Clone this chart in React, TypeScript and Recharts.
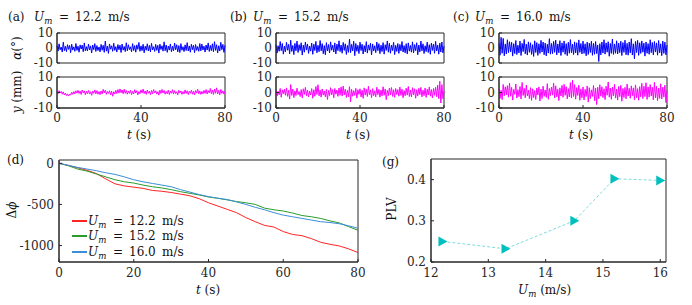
import React from "react";
import { LineChart, Line, XAxis, YAxis, ReferenceArea } from "recharts";

const FONT = "'DejaVu Serif', serif";
const INK = "#262626";

// panel (a..c) pitch angle / heave traces, one sample per 0.5 s
const alphaA = [
  1.5,-2.1,2.8,-1.2,0.6,-2.7,3.9,-1.8,1.1,-2.4, 2.2,-0.9,1.7,-3.1,2.5,-1.4,0.8,-2.2,3.0,-1.6,
  1.2,-2.8,2.1,-0.7,1.9,-2.5,3.4,-1.9,0.9,-2.0, 2.6,-1.3,1.4,-3.3,2.0,-1.1,2.9,-2.3,1.6,-1.7,
  0.7,-2.6,2.4,-1.5,1.8,-2.9,4.6,-2.1,1.3,-3.6, 2.7,-0.8,1.5,-2.2,3.2,-1.6,0.9,-2.7,2.3,-1.2,
  1.9,-3.0,2.6,-1.4,1.0,-2.4,3.5,-1.9,2.2,-1.1, 0.8,-2.5,2.9,-1.7,1.6,-2.8,2.1,-0.9,3.7,-2.2,
  1.4,-1.8,2.5,-3.2,1.2,-1.5,2.8,-2.0,1.7,-2.6, 3.1,-1.3,0.9,-2.3,2.4,-1.6,1.8,-3.4,2.6,-1.0,
  1.5,-2.1,4.1,-1.8,2.0,-2.9,1.3,-1.4,2.7,-2.5, 1.1,-1.9,3.3,-1.2,2.2,-2.6,1.6,-3.0,2.9,-1.5,
  0.9,-2.4,2.1,-1.7,3.6,-2.0,1.4,-2.8,2.5,-1.1, 1.8,-3.1,2.3,-1.6,1.0,-2.2,3.0,-1.9,2.6,-1.3,
  1.2,-2.7,2.0,-1.4,3.4,-2.3,1.7,-1.8,2.8,-2.5, 4.2,-1.6,2.2,-3.3,1.5,-2.0,3.8,-1.2,2.4,-2.9,
  1.8,
];
const heaveA = [
  0.5,-0.8,1.2,-0.3,0.7,-1.1,0.4,-1.6,-0.5,-2.0, -0.9,-2.3,-1.0,-1.7,0.2,-1.2,0.6,-0.9,1.1,-0.4,
  1.4,-0.6,0.9,-1.3,1.6,-0.2,1.0,-1.5,0.8,-0.7, 1.3,-1.0,0.5,-1.8,0.9,-0.5,1.7,-0.8,1.2,-1.1,
  0.6,-1.4,1.0,-0.9,2.0,-0.3,1.5,-1.2,0.7,-0.6, 1.1,-1.6,0.8,-2.4,0.5,-1.0,1.4,-0.7,1.9,-0.4,
  2.3,-0.2,1.6,-0.8,2.1,-0.5,1.3,-1.1,0.9,-0.6, 1.5,-1.3,0.7,-0.9,1.8,-0.4,1.2,-1.5,0.6,-0.8,
  1.7,-0.3,2.2,-0.7,1.0,-1.2,1.6,-0.5,0.8,-1.4, 1.3,-0.9,1.9,-0.2,1.1,-1.0,0.6,-1.7,1.5,-0.6,
  2.0,-0.4,1.3,-1.1,0.7,-0.8,1.6,-1.3,0.9,-0.5, 1.8,-1.0,1.2,-0.7,0.5,-1.5,1.4,-0.3,1.0,-1.2,
  0.6,-0.9,1.7,-0.6,1.1,-1.4,0.8,-0.5,1.5,-1.1, 0.9,-1.6,1.3,-0.4,2.1,-0.8,1.0,-1.2,0.7,-0.9,
  1.4,-0.6,1.9,-1.0,1.2,-0.3,2.6,-0.7,1.6,-1.3, 2.2,-0.5,3.0,-0.9,1.4,-1.5,2.0,-0.6,1.1,-1.0,
  0.8,
];
const alphaB = [
  2.1,-3.4,1.5,-2.2,4.3,-1.8,3.0,-4.1,1.2,-2.6, 3.8,-1.5,2.4,-3.9,5.2,-2.3,1.7,-4.4,3.1,-1.9,
  4.6,-3.0,2.2,-1.6,3.5,-4.7,1.9,-2.8,4.0,-1.4, 2.7,-3.6,1.3,-2.1,3.3,-4.2,2.5,-1.7,4.4,-3.2,
  1.8,-2.5,5.0,-1.9,2.9,-3.8,1.6,-4.5,3.6,-2.0, 2.3,-3.3,4.1,-1.5,1.9,-2.7,3.4,-4.0,2.6,-1.8,
  4.8,-2.4,2.0,-3.5,3.7,-1.6,2.8,-4.3,1.7,-2.9, 5.9,-3.1,2.4,-1.9,4.5,-5.1,3.0,-2.2,1.8,-3.7,
  3.9,-1.7,2.5,-4.0,1.6,-2.6,4.2,-3.4,2.1,-1.5, 3.2,-4.6,2.7,-2.0,1.5,-3.1,4.0,-1.8,2.9,-3.8,
  1.9,-2.4,3.6,-4.1,2.2,-1.6,4.7,-2.8,3.1,-3.5, 2.0,-1.7,3.8,-4.4,1.8,-2.3,3.0,-3.6,2.4,-1.9,
  4.3,-2.7,1.6,-3.2,2.9,-4.0,3.4,-2.1,1.7,-2.8, 4.1,-3.3,2.3,-1.8,3.5,-4.5,2.0,-2.6,4.6,-1.9,
  2.8,-3.7,1.5,-2.4,3.9,-3.0,2.2,-4.2,3.3,-1.6, 2.6,-3.5,4.4,-2.0,1.9,-4.1,3.2,-2.7,4.0,-3.3,
  1.2,
];
const heaveB = [
  1.2,-2.3,0.8,-1.5,2.6,-3.1,1.7,-0.9,2.1,-1.8, 3.0,-2.5,1.4,-4.2,5.1,-1.9,2.2,-3.3,1.1,-2.0,
  2.8,-1.4,0.7,-2.6,1.9,-3.5,2.4,-1.2,3.3,-2.1, 1.5,-2.9,0.9,-1.6,2.5,-3.7,1.8,-2.4,3.9,-1.3,
  5.0,-2.2,1.6,-3.0,2.3,-1.7,1.0,-2.8,2.0,-4.5, 1.3,-2.0,3.1,-1.5,1.9,-3.4,2.6,-1.1,1.6,-2.5,
  2.9,-1.8,3.6,-2.3,4.2,-1.6,2.1,-3.2,1.4,-2.7, 3.8,-6.1,2.0,-2.4,1.2,-1.9,2.7,-3.6,1.8,-1.2,
  2.4,-2.9,1.5,-3.8,3.0,-1.7,2.2,-2.6,4.0,-1.5, 1.7,-3.3,2.5,-2.0,1.1,-2.8,3.4,-1.4,2.0,-3.0,
  1.6,-2.2,3.7,-1.8,2.3,-4.6,1.4,-2.0,2.9,-1.6, 3.2,-2.5,1.8,-3.1,2.6,-1.3,1.9,-2.4,3.5,-1.9,
  2.2,-3.4,1.3,-2.1,2.8,-1.7,3.9,-2.6,1.6,-2.9, 3.1,-1.5,2.4,-3.7,1.8,-2.2,2.7,-1.4,3.3,-2.8,
  1.5,-2.0,2.9,-3.2,2.1,-1.6,3.6,-2.4,1.9,-3.5, 2.6,-1.8,3.4,-2.7,4.8,-3.9,7.2,-6.8,5.1,-4.0,
  1.0,
];
const alphaC = [
  3.2,-4.8,7.1,-3.5,6.4,-5.2,2.7,-4.0,5.5,-3.1, 4.2,-2.6,3.8,-5.4,2.9,-3.7,5.0,-4.4,1.9,-3.3,
  4.6,-5.0,3.1,-2.4,5.7,-3.9,2.6,-4.7,4.1,-2.9, 3.5,-4.3,2.2,-5.6,4.8,-3.0,3.6,-4.9,2.8,-3.6,
  5.1,-2.7,4.0,-4.5,3.3,-5.3,2.5,-3.4,6.2,-4.1, 3.0,-3.8,4.4,-2.9,5.3,-4.6,2.7,-3.2,4.9,-5.0,
  3.4,-2.8,4.7,-4.2,2.9,-5.1,3.8,-3.5,5.6,-3.1, 2.6,-4.4,4.1,-3.3,3.5,-4.8,5.4,-2.9,3.0,-4.0,
  4.6,-3.6,2.8,-5.2,3.9,-4.3,3.2,-3.0,4.5,-4.9, 3.1,-4.2,4.3,-3.7,2.0,-9.0,2.9,-4.6,4.0,-3.4,
  5.5,-4.1,3.4,-2.8,4.2,-5.5,3.0,-3.6,6.0,-4.3, 2.7,-3.5,4.8,-4.0,3.3,-3.1,4.5,-5.0,3.6,-2.9,
  5.2,-4.5,3.1,-4.8,4.0,-3.3,6.2,-4.7,2.8,-7.2, 4.4,-3.0,5.1,-4.9,3.5,-3.6,4.7,-2.8,3.2,-5.4,
  4.0,-3.5,2.9,-4.2,5.5,-3.1,3.7,-4.6,4.3,-2.7, 3.4,-4.8,5.0,-3.2,2.8,-5.1,4.6,-3.6,3.9,-4.5,
  2.0,
];
const heaveC = [
  2.5,-3.8,1.4,-4.6,5.2,-2.1,3.7,-1.5,4.4,-3.0, 6.1,-2.4,3.3,-4.9,2.0,-1.2,5.5,-3.6,1.8,-2.7,
  3.9,-4.2,6.5,-1.9,2.7,-3.4,4.8,-2.2,1.5,-4.0, 3.1,-5.1,2.4,-3.3,1.2,-4.5,2.9,-1.6,3.6,-5.5,
  2.2,-3.9,4.1,-2.5,1.6,-3.2,5.7,-4.4,2.6,-2.0, 3.5,-1.7,6.0,-3.5,4.3,-2.8,2.1,-5.2,3.0,-2.3,
  4.6,-3.1,5.3,-1.8,3.8,-4.1,2.5,-2.9,6.4,-3.6, 7.9,-2.6,5.1,-4.3,3.2,-1.9,4.7,-5.0,2.3,-3.4,
  3.6,-4.8,2.0,-2.6,4.2,-6.2,3.1,-3.9,1.7,-2.5, 4.5,-5.3,2.8,-7.8,3.4,-4.0,5.0,-2.4,3.7,-3.3,
  2.4,-4.6,4.0,-1.8,6.8,-3.0,2.9,-4.4,3.5,-2.1, 5.2,-3.6,2.2,-4.9,3.9,-2.7,4.6,-5.6,2.6,-3.2,
  3.3,-4.1,5.4,-2.3,2.7,-3.7,4.3,-2.0,3.0,-4.7, 4.9,-3.4,2.5,-5.0,3.8,-2.8,5.9,-3.9,4.1,-2.6,
  6.3,-4.5,3.6,-3.0,5.1,-2.2,3.4,-4.8,6.6,-3.5, 4.0,-5.3,2.8,-3.8,5.6,-4.2,3.5,-2.9,4.7,-6.5,
  1.5,
];

// panel (d) phase difference
const tD = [0,2.5,5,7.5,10,12.5,15,17.5,20,22.5,25,27.5,30,32.5,35,37.5,40,42.5,45,47.5,50,52.5,55,57.5,60,62.5,65,67.5,70,72.5,75,77.5,80];
const dRed = [0,-25,-55,-85,-125,-190,-250,-275,-290,-305,-330,-340,-355,-375,-395,-430,-480,-520,-560,-600,-660,-710,-755,-775,-830,-865,-880,-915,-960,-985,-1005,-1040,-1085];
const dGreen = [0,-30,-70,-95,-130,-165,-200,-225,-240,-265,-285,-300,-320,-345,-365,-385,-410,-425,-445,-465,-480,-500,-545,-565,-580,-605,-635,-650,-670,-700,-725,-770,-815];
const dBlue = [0,-25,-50,-70,-90,-115,-135,-165,-200,-225,-245,-265,-285,-320,-350,-380,-405,-425,-440,-470,-500,-535,-565,-600,-630,-650,-670,-690,-710,-720,-735,-760,-790];
const dLegend = ["12.2", "15.2", "16.0"];
const dColors = ["#ff2424", "#2b9b2b", "#3b8fd8"];
const dRows = [221, 236, 252];

// panel (g) phase locking value
const umVals = [12.2, 13.3, 14.5, 15.2, 16.0];
const plvVals = [0.25, 0.232, 0.30, 0.402, 0.398];

const tickStyle = { fontSize: 12, fill: INK, fontFamily: FONT };

const toSeries = (vals: number[]) => vals.map((v, i) => ({ t: i * 0.5, v }));

function Um() {
  return (
    <span>
      <i>U</i>
      <i style={{ fontSize: "0.72em", position: "relative", top: "0.35em" }}>m</i>
    </span>
  );
}

function UmEq({ x, y, val }: { x: number; y: number; val: string }) {
  const s = { position: "absolute" as const, top: 0, whiteSpace: "nowrap" as const };
  return (
    <div style={{ position: "absolute", left: x, top: y, transform: "translateY(-50%)", height: 14, lineHeight: "14px" }}>
      <span style={{ ...s, left: 0 }}><Um /></span>
      <span style={{ ...s, left: 25 }}>=</span>
      <span style={{ ...s, left: 41 }}>{val}</span>
      <span style={{ ...s, left: 74 }}>m/s</span>
    </div>
  );
}

function Txt({ x, y, children, center = false, rotate = false }: any) {
  const tr = `translate(${center || rotate ? "-50%" : "0"},-50%)` + (rotate ? " rotate(-90deg)" : "");
  return (
    <div style={{ position: "absolute", left: x, top: y, transform: tr, whiteSpace: "nowrap", lineHeight: 1 }}>
      {children}
    </div>
  );
}

function TracePanel({ vals, color, x, y, w, h, showX }: any) {
  const padL = 40, padT = 9, padR = 14, padB = showX ? 4 : 9, xh = showX ? 22 : 0;
  return (
    <div style={{ position: "absolute", left: x - padL, top: y - padT }}>
      <LineChart width={padL + w + padR} height={padT + h + xh + padB} data={toSeries(vals)}
        margin={{ top: padT, right: padR, left: 0, bottom: padB }}>
        <XAxis type="number" dataKey="t" domain={[0, 80]} ticks={[0, 40, 80]} interval={0} hide={!showX} height={xh}
          tick={tickStyle} tickSize={-3} tickMargin={8} stroke={INK} />
        <YAxis type="number" domain={[-10, 10]} ticks={[-10, 0, 10]} interval={0} width={padL}
          tick={tickStyle} tickSize={-3} tickMargin={7} stroke={INK} />
        <Line dataKey="v" stroke={color} strokeWidth={1} dot={false} isAnimationActive={false} />
        <ReferenceArea x1={0} x2={80} y1={-10} y2={10} fill="none" stroke={INK} strokeOpacity={1} />
      </LineChart>
    </div>
  );
}

const triangle = (props: any) => {
  const { cx, cy, index } = props;
  return <path key={"tri" + index} d={`M${cx - 4},${cy - 5} L${cx + 5},${cy} L${cx - 4},${cy + 5} Z`} fill="#00bfbf" />;
};

export default function App() {
  const cols = [
    { x: 57, tag: "(a)", tagX: 8, umX: 34, val: "12.2", a: alphaA, y: heaveA },
    { x: 276, tag: "(b)", tagX: 230, umX: 253, val: "15.2", a: alphaB, y: heaveB },
    { x: 499, tag: "(c)", tagX: 453, umX: 475, val: "16.0", a: alphaC, y: heaveC },
  ];
  const pw = 168;
  const dData = tD.map((t, i) => ({ t, r: dRed[i], g: dGreen[i], b: dBlue[i] }));
  const gData = umVals.map((u, i) => ({ u, p: plvVals[i] }));

  return (
    <div style={{ position: "absolute", left: 0, top: 0, width: 692, height: 305, background: "#fff",
      fontFamily: FONT, fontSize: 12, color: "#111", overflow: "hidden" }}>
      {cols.map((c) => (
        <React.Fragment key={c.tag}>
          <Txt x={c.tagX} y={17}>{c.tag}</Txt>
          <UmEq x={c.umX} y={17} val={c.val} />
          <TracePanel vals={c.a} color="#0000ff" x={c.x} y={33} w={pw} h={30} showX={false} />
          <TracePanel vals={c.y} color="#ff00ff" x={c.x} y={77} w={pw} h={31} showX={true} />
          <Txt x={c.x + pw / 2 - 2} y={135} center><i>t</i> (s)</Txt>
        </React.Fragment>
      ))}
      <Txt x={17} y={48} rotate><i>α</i>(°)</Txt>
      <Txt x={17} y={92} rotate><i>y</i> (mm)</Txt>

      {/* (d) */}
      <Txt x={7} y={160}>(d)</Txt>
      <div style={{ position: "absolute", left: 9, top: 151 }}>
        <LineChart width={50 + 299 + 14} height={9 + 102 + 22 + 5} data={dData} margin={{ top: 9, right: 14, left: 0, bottom: 5 }}>
          <XAxis type="number" dataKey="t" domain={[0, 80]} ticks={[0, 20, 40, 60, 80]} interval={0} height={22}
            tick={tickStyle} tickSize={-3} tickMargin={9} stroke={INK} />
          <YAxis type="number" domain={[-1200, 40]} ticks={[-1000, -500, 0]} interval={0} width={50}
            tick={tickStyle} tickSize={-3} tickMargin={8} stroke={INK} />
          <Line dataKey="r" stroke={dColors[0]} strokeWidth={1} dot={false} isAnimationActive={false} />
          <Line dataKey="g" stroke={dColors[1]} strokeWidth={1} dot={false} isAnimationActive={false} />
          <Line dataKey="b" stroke={dColors[2]} strokeWidth={1} dot={false} isAnimationActive={false} />
          <ReferenceArea x1={0} x2={80} y1={-1200} y2={40} fill="none" stroke={INK} strokeOpacity={1} />
        </LineChart>
      </div>
      {dLegend.map((v, i) => (
        <React.Fragment key={v}>
          <div style={{ position: "absolute", left: 72, top: dRows[i] - 1, width: 15, height: 1.5, background: dColors[i] }} />
          <UmEq x={88} y={dRows[i]} val={v} />
        </React.Fragment>
      ))}
      <Txt x={12} y={210} rotate>Δ<i>ϕ</i></Txt>
      <Txt x={208} y={290} center><i>t</i> (s)</Txt>

      {/* (g) */}
      <Txt x={382} y={162}>(g)</Txt>
      <div style={{ position: "absolute", left: 431 - 45, top: 159 - 9 }}>
        <LineChart width={45 + 235 + 14} height={9 + 103 + 22 + 5} data={gData} margin={{ top: 9, right: 14, left: 0, bottom: 5 }}>
          <XAxis type="number" dataKey="u" domain={[12, 16.1]} ticks={[12, 13, 14, 15, 16]} interval={0} height={22}
            tick={tickStyle} tickSize={-3} tickMargin={9} stroke={INK} />
          <YAxis type="number" domain={[0.2, 0.45]} ticks={[0.2, 0.3, 0.4]} interval={0} width={45}
            tick={tickStyle} tickSize={-3} tickMargin={8} stroke={INK} />
          <Line dataKey="p" stroke="#80dcdc" strokeWidth={1} strokeDasharray="3 2" dot={triangle} isAnimationActive={false} />
          <ReferenceArea x1={12} x2={16.1} y1={0.2} y2={0.45} fill="none" stroke={INK} strokeOpacity={1} />
        </LineChart>
      </div>
      <Txt x={392} y={209} rotate>PLV</Txt>
      <div style={{ position: "absolute", left: 518, top: 290, transform: "translateY(-50%)", whiteSpace: "nowrap", lineHeight: 1 }}>
        <Um /> (m/s)
      </div>
    </div>
  );
}
